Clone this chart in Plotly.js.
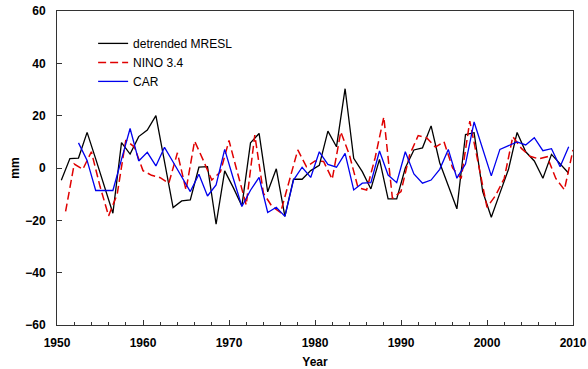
<!DOCTYPE html>
<html>
<head>
<meta charset="utf-8">
<script src="https://cdn.plot.ly/plotly-3.0.1.min.js"></script>
<style>html,body{margin:0;padding:0;background:#fff;}#chart{width:588px;height:369px;}</style>
</head>
<body>
<div id="chart"></div>
<script>
// detrended MRESL (annual, mid-year)
var mreslYears = [1950.5,1951.5,1952.5,1953.5,1954.5,1955.5,1956.5,1957.5,1958.5,1959.5,
  1960.5,1961.5,1962.5,1963.5,1964.5,1965.5,1966.5,1967.5,1968.5,1969.5,
  1970.5,1971.5,1972.5,1973.5,1974.5,1975.5,1976.5,1977.5,1978.5,1979.5,
  1980.5,1981.5,1982.5,1983.5,1984.5,1985.5,1986.5,1987.5,1988.5,1989.5,
  1990.5,1991.5,1992.5,1993.5,1994.5,1995.5,1996.5,1997.5,1998.5,1999.5,
  2000.5,2001.5,2002.5,2003.5,2004.5,2005.5,2006.5,2007.5,2008.5,2009.5];
var mreslValues = [-4.7,3.6,3.8,13.6,3.5,-7,-17.3,9.7,5.3,12,
  14.5,20,2.5,-15.1,-12.6,-12.2,0.3,0.5,-21.5,-1.1,
  -7.5,-14.5,9.6,13.2,-9.1,-0.3,-18.5,-4.3,-4.3,-1,
  1,14.1,8.1,30.3,3.7,-1.4,-8,3.3,-11.8,-11.8,
  0,6.9,7.7,16.1,2,-7,-15.6,12.8,13.5,-9,
  -18.8,-9.6,-0.5,13.6,6.2,2.7,-3.9,5.2,1.5,-2];

// NINO 3.4
var ninoYears = [1951,1952,1953,1954,1955,1956,1957,1958,1959,1960,
  1961,1962,1963,1964,1965,1966,1967,1968,1969,1970,
  1971,1972,1973,1974,1975,1976,1977,1978,1979,1980,
  1981,1982,1983,1984,1985,1986,1987,1988,1989,1990,
  1991,1992,1993,1994,1995,1996,1997,1998,1999,2000,
  2001,2002,2003,2004,2005,2006,2007,2008,2009,2010];
var ninoValues = [-16.6,1.5,-0.5,6.2,-7,-18.3,-10,10.7,8,-1,
  -2.8,-3.7,-5.8,5.8,-8.4,10.3,3,-4.6,-1.5,10.5,
  -2,-14.1,12.6,-9.6,-14.7,-17,-5,6.9,0.5,2.7,
  2.5,-4.3,13.8,5,-7.5,-8.4,4,19.5,-11.6,-9,
  5,12.4,11.5,8,10,0,-4,17.9,1.5,-15,
  -10.5,-4,12,7.5,4.5,3.5,4.3,-4,-8.3,6.9];

// CAR
var carYears = [1952.5,1953.5,1954.5,1955.5,1956.5,1957.5,1958.5,1959.5,
  1960.5,1961.5,1962.5,1963.5,1964.5,1965.5,1966.5,1967.5,1968.5,1969.5,
  1970.5,1971.5,1972.5,1973.5,1974.5,1975.5,1976.5,1977.5,1978.5,1979.5,
  1980.5,1981.5,1982.5,1983.5,1984.5,1985.5,1986.5,1987.5,1988.5,1989.5,
  1990.5,1991.5,1992.5,1993.5,1994.5,1995.5,1996.5,1997.5,1998.5,1999.5,
  2000.5,2001.5,2002.5,2003.5,2004.5,2005.5,2006.5,2007.5,2008.5,2009.5];
var carValues = [9.6,2.9,-8.6,-8.6,-8.6,3.3,15.1,2.7,
  6,0.8,7.9,2.3,-3.4,-9,-2.4,-10.7,-6.5,7.1,
  -4,-14.7,-8.5,-3.6,-17,-15,-18.5,-4.6,0.3,-3.6,
  6.2,1.4,0.3,5.6,-8.4,-5.8,-5.6,6.5,-2.7,-5.6,
  6.2,-2.3,-5.8,-4.6,-0.5,7.1,-3.9,1.5,17.6,7.5,
  -3,7.1,8.5,10,8.8,11.6,6.6,7.4,0.5,8.1];

var seriesNames = ['detrended MRESL','NINO 3.4','CAR'];
var xTickVals = [1950,1960,1970,1980,1990,2000,2010];
var yTickVals = [-60,-40,-20,0,20,40,60];

var FONT = 'Liberation Sans, Arial, sans-serif';

var traces = [
  {x: mreslYears, y: mreslValues, name: seriesNames[0], mode: 'lines',
   line: {color: '#000000', width: 1.3}},
  {x: ninoYears, y: ninoValues, name: seriesNames[1], mode: 'lines',
   line: {color: '#e00000', width: 1.5, dash: '8px,4px'}},
  {x: carYears, y: carValues, name: seriesNames[2], mode: 'lines',
   line: {color: '#0000ee', width: 1.3}}
];

var axisCommon = {
  showgrid: false, zeroline: false, showline: true, mirror: true,
  linecolor: '#333', linewidth: 1,
  ticks: 'inside', ticklen: 5, tickcolor: '#333',
  tickfont: {family: FONT, size: 12, color: '#000', weight: 'bold'}
};

var layout = {
  width: 588, height: 369,
  margin: {l: 57, r: 15, t: 11, b: 44},
  paper_bgcolor: '#fff', plot_bgcolor: '#fff',
  font: {family: FONT, size: 12, color: '#000'},
  showlegend: true,
  legend: {x: 0.07, y: 0.943, xanchor: 'left', yanchor: 'top',
           bgcolor: 'rgba(0,0,0,0)', font: {family: FONT, size: 12, color: '#000'}},
  xaxis: Object.assign({}, axisCommon, {
    range: [1950, 2010], tickvals: xTickVals, ticklabelstandoff: 7,
    minor: {dtick: 2, tick0: 1950, ticks: 'inside', ticklen: 3, tickcolor: '#333'},
    title: {text: 'Year', font: {family: FONT, size: 12, weight: 'bold'}, standoff: 10}
  }),
  yaxis: Object.assign({}, axisCommon, {
    range: [-60, 60], tickvals: yTickVals, ticklabelstandoff: 8,
    title: {text: 'mm', font: {family: FONT, size: 12, weight: 'bold'}, standoff: 3}
  })
};

Plotly.newPlot('chart', traces, layout, {staticPlot: true, displayModeBar: false});
</script>
</body>
</html>
